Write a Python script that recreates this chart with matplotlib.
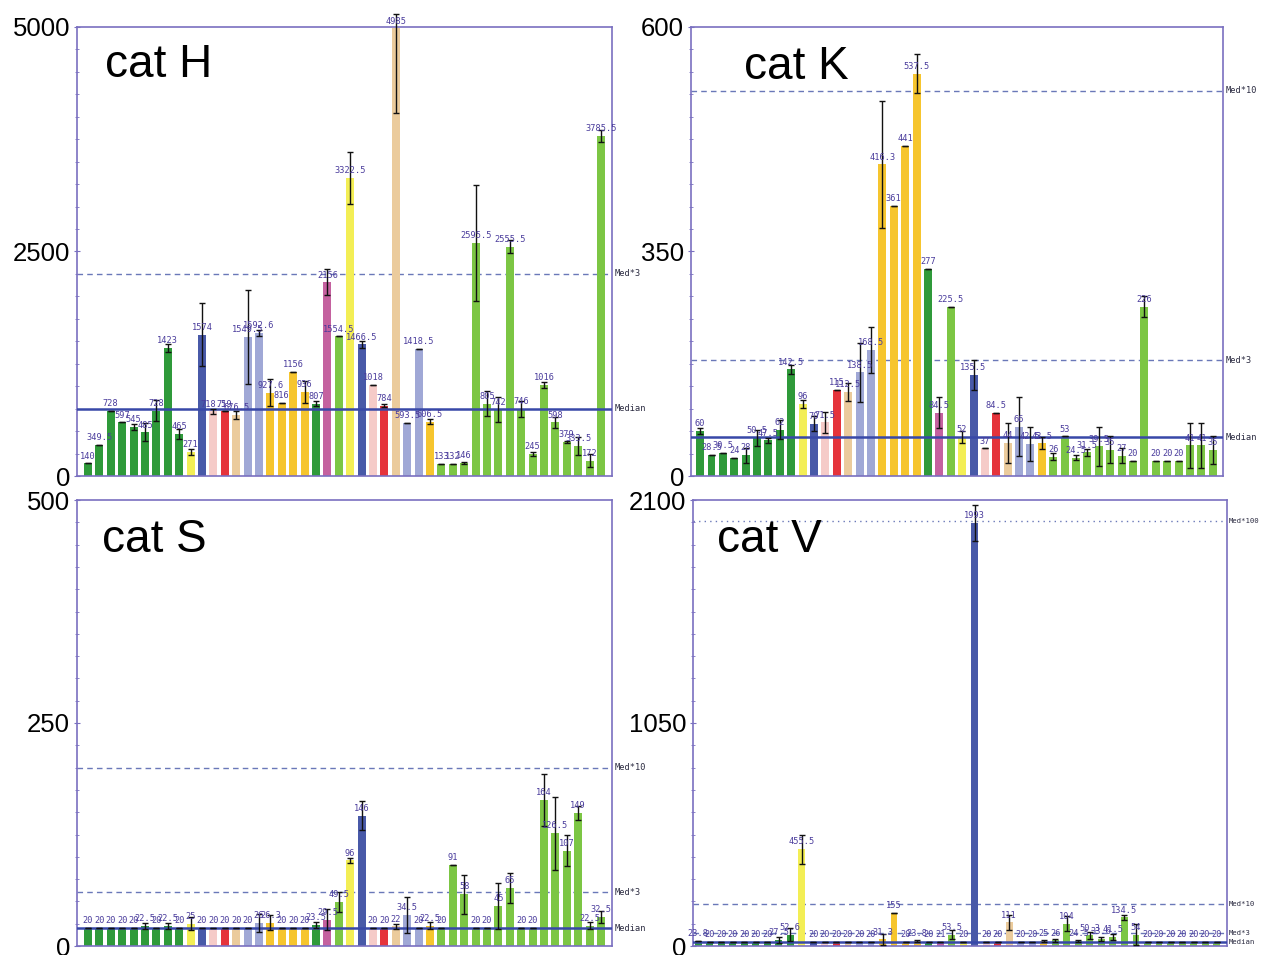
import numpy as np
import matplotlib.pyplot as plt
import matplotlib.transforms as mtransforms
from matplotlib.ticker import MultipleLocator

plt.rcParams['font.family'] = ['Liberation Sans', 'DejaVu Sans']

# bar colours (same sample order in every panel)
DG = '#2f9a3a'
LG = '#7cc644'
YL = '#f3ee55'
GD = '#f6c52e'
BL = '#4859a8'
PK = '#f5cbc8'
RD = '#e5333b'
TN = '#ebcb9c'
LV = '#a0a8d6'
MG = '#c4619f'

bar_colors = ([DG] * 9
              + [YL, BL, PK, RD, TN, LV, LV, GD, GD, GD, GD]
              + [DG, MG, LG, YL, BL, PK, RD, TN, LV, LV, GD]
              + [LG] * 15)

# cat H
h_values = [140, 349.5, 728, 597, 545, 485, 728, 1423, 465, 271,
            1574, 718.5, 719, 676.5, 1549.5, 1592.6, 927.6, 816, 1156, 936,
            807, 2156, 1554.5, 3322.5, 1466.5, 1018, 784, 4985, 593.5, 1418.5,
            606.5, 133, 132, 146, 2595.5, 805, 742, 2555.5, 746, 245,
            1016, 598, 379, 333.5, 172, 3785.5]
h_err = [0, 0, 0, 0, 30, 100, 120, 45, 55, 35,
         350, 25, 0, 45, 520, 30, 150, 0, 0, 120,
         30, 145, 0, 290, 40, 0, 20, 940, 0, 0,
         30, 0, 0, 15, 650, 140, 140, 70, 90, 20,
         35, 60, 15, 100, 75, 70]
h_median = 750

# cat K
k_values = [60, 28.5, 30.5, 24, 28, 50.5, 47.5, 62, 142.5, 96,
            70, 71.5, 115, 112.5, 138.5, 168.5, 416.3, 361, 441, 537.5,
            277, 84.5, 225.5, 52, 135.5, 37, 84.5, 44, 66, 42.5,
            43.5, 26, 53, 24.5, 31.5, 39.5, 35, 27, 20, 226,
            20, 20, 20, 41, 41, 35]
k_err = [4, 0, 0, 0, 10, 11, 3, 13, 6, 5,
         10, 14, 0, 12, 39, 31, 85, 0, 0, 26,
         0, 21, 0, 8, 20, 0, 0, 27, 39, 23,
         8, 5, 0, 3, 5, 26, 18, 10, 0, 14,
         0, 0, 0, 30, 30, 19]
k_median = 51.5

# cat S
s_values = [20, 20, 20, 20, 20, 22.5, 20, 22.5, 20, 25,
            20, 20, 20, 20, 20, 26, 26.3, 20, 20, 20,
            23.5, 29.5, 49.5, 96, 146, 20, 20, 22, 34.5, 20,
            22.5, 20, 91, 58, 20, 20, 45, 65, 20, 20,
            164, 126.5, 107, 149, 22.5, 32.5]
s_err = [0, 0, 0, 0, 0, 3, 0, 3, 0, 7,
         0, 0, 0, 0, 0, 10, 8, 0, 0, 0,
         3, 12, 11, 3, 16, 0, 0, 3, 20, 0,
         4, 0, 0, 22, 0, 0, 26, 17, 0, 0,
         29, 41, 17, 8, 4, 7]
s_median = 20

# cat V
v_values = [23.8, 20, 20, 20, 20, 20, 20, 27.5, 52.6, 455.5,
            20, 20, 20, 20, 20, 20, 31.3, 155, 20, 23.8,
            20, 21, 53.5, 20, 1993, 20, 20, 111, 20, 20,
            25, 26, 104, 24.5, 50.3, 33.6, 41.5, 134.5, 54, 20,
            20, 20, 20, 20, 20, 20]
v_err = [0, 0, 0, 0, 0, 0, 0, 15, 30, 68,
         0, 0, 0, 0, 0, 0, 25, 0, 0, 5,
         0, 0, 20, 0, 85, 0, 0, 35, 0, 0,
         5, 5, 35, 5, 15, 10, 15, 10, 50, 0,
         0, 0, 0, 0, 0, 0]
v_median = 20

SPINE = '#7a70c0'


def draw_panel(ax, values, errors, name, title_xy, ymax, ytick_labels,
               median, multipliers, xlim, width, ref_size=6.2):
    x = np.arange(len(values))
    vals = np.array(values, dtype=float)
    errs = np.array(errors, dtype=float)

    ax.bar(x, vals, width=width, color=bar_colors, edgecolor='none', zorder=2)

    # keep the top whisker from running off the figure
    upper = np.minimum(vals + errs, ymax * 1.03) - vals
    ax.errorbar(x, vals, yerr=[errs, upper], fmt='none', ecolor='#111111',
                elinewidth=1, capsize=2.2, capthick=1, zorder=4, clip_on=False)

    for xi, v in zip(x, vals):
        ax.annotate(f'{v:g}', (xi, v), xytext=(0, 2), textcoords='offset points',
                    ha='center', va='bottom', fontsize=6.2,
                    family='DejaVu Sans Mono', color='#4a3c9c', zorder=5,
                    annotation_clip=False)

    # median reference lines with their labels on the right
    trans = mtransforms.blended_transform_factory(ax.transAxes, ax.transData)
    for m in multipliers:
        y = median * m
        if m == 1:
            ax.axhline(y, color='#3848a8', lw=1.8, zorder=3)
            lab = 'Median'
        else:
            ls = (0, (1, 3)) if m == 100 else (0, (4, 3))
            ax.axhline(y, color='#6a78b8', lw=1, ls=ls, zorder=1)
            lab = f'Med*{m}'
        ax.text(1.004, y, lab, transform=trans, ha='left', va='center',
                fontsize=ref_size, family='DejaVu Sans Mono', color='#2a2a40')

    ax.set_xlim(xlim)
    ax.set_ylim(0, ymax)
    ax.set_xticks([])
    ax.set_yticks([0, ymax / 2, ymax])
    ax.set_yticklabels(ytick_labels, fontsize=18.5)
    ax.yaxis.set_minor_locator(MultipleLocator(ymax / 20))
    ax.tick_params(axis='y', which='major', length=4, direction='inout',
                   color=SPINE, pad=3)
    ax.tick_params(axis='y', which='minor', length=3, direction='inout',
                   color=SPINE)
    for sp in ax.spines.values():
        sp.set_color(SPINE)
        sp.set_linewidth(1.2)

    ax.text(title_xy[0], title_xy[1], name, transform=ax.transAxes,
            fontsize=33, ha='left', va='center')


fig = plt.figure(figsize=(12.65, 9.55), dpi=100)
W, H = 1265.0, 955.0

ax_h = fig.add_axes([77 / W, 1 - 476 / H, 535 / W, 449 / H])
ax_k = fig.add_axes([691 / W, 1 - 476 / H, 532 / W, 449 / H])
ax_s = fig.add_axes([77 / W, 1 - 946 / H, 535 / W, 446 / H])
ax_v = fig.add_axes([693 / W, 1 - 946 / H, 534 / W, 446 / H])

draw_panel(ax_h, h_values, h_err, 'cat H', (0.052, 0.915), 5000,
           ['0', '2500', '5000'], h_median, [1, 3], (-0.96, 45.96), 0.7)
draw_panel(ax_k, k_values, k_err, 'cat K', (0.10, 0.91), 600,
           ['0', '350', '600'], k_median, [1, 3, 10], (-0.8, 45.9), 0.7)
draw_panel(ax_s, s_values, s_err, 'cat S', (0.047, 0.91), 500,
           ['0', '250', '500'], s_median, [1, 3, 10], (-0.96, 45.96), 0.7)
draw_panel(ax_v, v_values, v_err, 'cat V', (0.045, 0.91), 2100,
           ['0', '1050', '2100'], v_median, [1, 3, 10, 100], (-0.45, 45.9), 0.6,
           ref_size=5.2)

fig.savefig('out.png', dpi=100)
